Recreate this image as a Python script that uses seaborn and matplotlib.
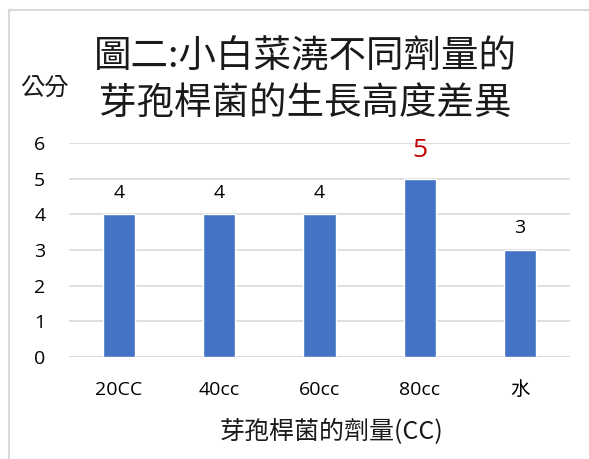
import matplotlib
matplotlib.use("Agg")
import matplotlib.pyplot as plt
import seaborn as sns
import pandas as pd
from matplotlib.lines import Line2D

# Data
categories = ["20CC", "40cc", "60cc", "80cc", "水"]
heights = [4, 4, 4, 5, 3]
label_colors = ["#000000", "#000000", "#000000", "#C00000", "#000000"]
label_sizes = [14, 14, 14, 19, 14]
y_ticks = [0, 1, 2, 3, 4, 5, 6]

title_text = "圖二:小白菜澆不同劑量的\n芽孢桿菌的生長高度差異"
y_label = "公分"
x_label = "芽孢桿菌的劑量(CC)"

sns.set_theme(style="white")
plt.rcParams["font.family"] = ["Noto Sans CJK TC", "DejaVu Sans"]

df = pd.DataFrame({"cat": categories, "val": heights})

fig = plt.figure(figsize=(5.89, 4.59), dpi=100)
ax = fig.add_axes([0.1171, 0.2222, 0.8506, 0.4663])

sns.barplot(data=df, x="cat", y="val", color="#4472C4", width=0.32,
            saturation=1, ax=ax, zorder=3)

ax.set_ylim(0, 6)
ax.set_xlim(-0.5, len(categories) - 0.5)
ax.set_yticks(y_ticks)
ax.yaxis.grid(True, color="#d9d9d9", linewidth=1.2, zorder=0)
ax.xaxis.grid(False)
for s in ax.spines.values():
    s.set_visible(False)
ax.axhline(0, color="#d9d9d9", linewidth=1.2, zorder=1)

ax.tick_params(axis="y", length=0, pad=17, labelsize=14, labelcolor="#000000")
ax.tick_params(axis="x", length=0, pad=17.5, labelsize=14, labelcolor="#000000")
for t in ax.get_yticklabels():
    t.set_fontfamily(["Open Sans", "DejaVu Sans"])
for t in ax.get_xticklabels():
    t.set_fontfamily(["Open Sans", "Noto Sans CJK TC"])
ax.set_xlabel("")
ax.set_ylabel("")

# Value labels above each bar
for i, (v, c, fs) in enumerate(zip(heights, label_colors, label_sizes)):
    ax.annotate(str(v), (i, v), xytext=(0, 9 if fs < 16 else 11),
                textcoords="offset points", ha="center", va="bottom",
                color=c, fontsize=fs, family=["Open Sans", "DejaVu Sans"])

# Title and axis titles
fig.text(0.518, 0.826, title_text, ha="center", va="center",
         fontsize=27, color="#1a1a1a", linespacing=1.28, fontweight="light")
fig.text(0.075, 0.808, y_label, ha="center", va="center",
         fontsize=17.5, color="#1a1a1a")
fig.text(0.563, 0.059, x_label, ha="center", va="center",
         fontsize=18, color="#1a1a1a", family=["Noto Sans CJK TC", "DejaVu Sans"])

# Chart frame (left and top edges visible)
fig.add_artist(Line2D([0.0146, 0.0146], [0.0, 0.978], transform=fig.transFigure,
                      color="#d9d9d9", linewidth=1.5))
fig.add_artist(Line2D([0.0146, 1.0], [0.978, 0.978], transform=fig.transFigure,
                      color="#d9d9d9", linewidth=1.5))

fig.savefig("out.png", dpi=100, facecolor="white")
